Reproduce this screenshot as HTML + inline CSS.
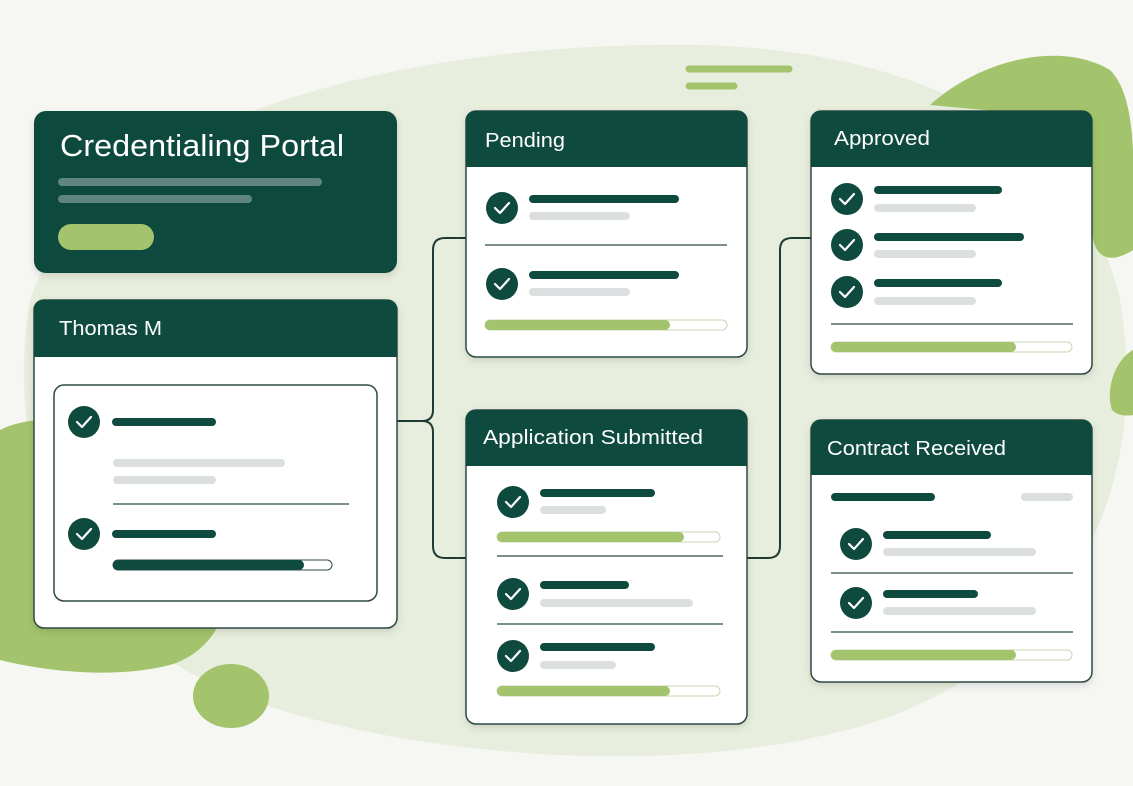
<!DOCTYPE html>
<html><head><meta charset="utf-8"><style>
html,body{margin:0;padding:0;background:#f6f7f3;}
svg{display:block;font-family:"Liberation Sans","DejaVu Sans",sans-serif;}
</style></head><body>
<svg width="1133" height="786" viewBox="0 0 1133 786" xmlns="http://www.w3.org/2000/svg">
<defs>
<filter id="sh" x="-10%" y="-10%" width="120%" height="130%"><feDropShadow dx="0" dy="3" stdDeviation="4" flood-color="#000" flood-opacity="0.12"/></filter>
<g id="ck"><circle r="16" fill="#0f4a3e"/><path d="M-7,0 L-2,5 L7,-5" fill="none" stroke="#fff" stroke-width="2.2" stroke-linecap="round" stroke-linejoin="round"/></g>
</defs>
<rect width="1133" height="786" fill="#f6f7f3"/>
<path d="M30,300 C90,120 400,40 700,45 C900,50 1080,120 1120,300 C1150,480 1080,650 880,720 C700,780 420,760 250,700 C80,640 0,480 30,300 Z" fill="#e8eedd"/>
<path d="M0,430 C60,400 160,440 210,520 C250,590 220,650 170,665 C110,680 40,670 0,660 Z" fill="#a3c46c"/>
<ellipse cx="231" cy="696" rx="38" ry="32" fill="#a3c46c"/>
<path d="M930,105 C980,60 1060,40 1110,70 C1140,100 1133,180 1133,250 C1110,265 1090,260 1092,220 L1092,120 Z" fill="#a3c46c"/>
<path d="M1133,350 C1115,360 1105,390 1112,410 C1120,418 1133,415 1133,415 Z" fill="#a3c46c"/>
<line x1="689" y1="69" x2="789" y2="69" stroke="#a3c46c" stroke-width="7" stroke-linecap="round"/>
<line x1="689" y1="86" x2="734" y2="86" stroke="#a3c46c" stroke-width="7" stroke-linecap="round"/>
<g fill="none" stroke="#1d3b34" stroke-width="2">
<path d="M397,421 L422,421 Q433,421 433,410 L433,250 Q433,238 445,238 L466,238"/>
<path d="M422,421 Q433,421 433,432 L433,546 Q433,558 445,558 L466,558"/>
<path d="M747,558 L768,558 Q780,558 780,546 L780,250 Q780,238 792,238 L811,238"/>
</g>
<rect x="34" y="111" width="363" height="162" rx="12" fill="#0f4a3e" filter="url(#sh)"/>
<text x="60" y="156" font-size="31" fill="#fff" textLength="284" lengthAdjust="spacingAndGlyphs">Credentialing Portal</text>
<line x1="62" y1="182" x2="318" y2="182" stroke="#5f8580" stroke-width="8" stroke-linecap="round"/>
<line x1="62" y1="199" x2="248" y2="199" stroke="#5f8580" stroke-width="8" stroke-linecap="round"/>
<rect x="58" y="224" width="96" height="26" rx="13" fill="#a3c46c"/>
<g filter="url(#sh)"><rect x="34" y="300" width="363" height="328" rx="10" fill="#fff" stroke="#2f4a44" stroke-width="1.5"/></g>
<path d="M34,357 L34,310 Q34,300 44,300 L387,300 Q397,300 397,310 L397,357 Z" fill="#0f4a3e"/>
<text x="59" y="335" font-size="20" fill="#fff" textLength="103" lengthAdjust="spacingAndGlyphs">Thomas M</text>
<rect x="54" y="385" width="323" height="216" rx="10" fill="#fff" stroke="#2f4a44" stroke-width="1.5"/>
<use href="#ck" x="84" y="422"/>
<line x1="116" y1="422" x2="212" y2="422" stroke="#0f4a3e" stroke-width="8" stroke-linecap="round"/>
<line x1="117" y1="463" x2="281" y2="463" stroke="#dcdfe0" stroke-width="8" stroke-linecap="round"/>
<line x1="117" y1="480" x2="212" y2="480" stroke="#dcdfe0" stroke-width="8" stroke-linecap="round"/>
<line x1="113" y1="504" x2="349" y2="504" stroke="#2f4a44" stroke-width="1.3"/>
<use href="#ck" x="84" y="534"/>
<line x1="116" y1="534" x2="212" y2="534" stroke="#0f4a3e" stroke-width="8" stroke-linecap="round"/>
<rect x="113" y="560" width="219" height="10" rx="5" fill="#fff" stroke="#2f4a44" stroke-width="1"/>
<rect x="113" y="560" width="191" height="10" rx="5" fill="#0f4a3e"/>
<g filter="url(#sh)"><rect x="466" y="111" width="281" height="246" rx="10" fill="#fff" stroke="#2f4a44" stroke-width="1.5"/></g>
<path d="M466,167 L466,121 Q466,111 476,111 L737,111 Q747,111 747,121 L747,167 Z" fill="#0f4a3e"/>
<text x="485" y="147" font-size="20" fill="#fff" textLength="80" lengthAdjust="spacingAndGlyphs">Pending</text>
<use href="#ck" x="502" y="208"/>
<line x1="533" y1="199" x2="675" y2="199" stroke="#0f4a3e" stroke-width="8" stroke-linecap="round"/>
<line x1="533" y1="216" x2="626" y2="216" stroke="#dcdfe0" stroke-width="8" stroke-linecap="round"/>
<line x1="485" y1="245" x2="727" y2="245" stroke="#2f4a44" stroke-width="1.3"/>
<use href="#ck" x="502" y="284"/>
<line x1="533" y1="275" x2="675" y2="275" stroke="#0f4a3e" stroke-width="8" stroke-linecap="round"/>
<line x1="533" y1="292" x2="626" y2="292" stroke="#dcdfe0" stroke-width="8" stroke-linecap="round"/>
<rect x="485" y="320" width="242" height="10" rx="5" fill="#fff" stroke="#c9d4b0" stroke-width="1"/>
<rect x="485" y="320" width="185" height="10" rx="5" fill="#a3c46c"/>
<g filter="url(#sh)"><rect x="466" y="410" width="281" height="314" rx="10" fill="#fff" stroke="#2f4a44" stroke-width="1.5"/></g>
<path d="M466,466 L466,420 Q466,410 476,410 L737,410 Q747,410 747,420 L747,466 Z" fill="#0f4a3e"/>
<text x="483" y="444" font-size="20" fill="#fff" textLength="220" lengthAdjust="spacingAndGlyphs">Application Submitted</text>
<use href="#ck" x="513" y="502"/>
<line x1="544" y1="493" x2="651" y2="493" stroke="#0f4a3e" stroke-width="8" stroke-linecap="round"/>
<line x1="544" y1="510" x2="602" y2="510" stroke="#dcdfe0" stroke-width="8" stroke-linecap="round"/>
<rect x="497" y="532" width="223" height="10" rx="5" fill="#fff" stroke="#c9d4b0" stroke-width="1"/>
<rect x="497" y="532" width="187" height="10" rx="5" fill="#a3c46c"/>
<line x1="497" y1="556" x2="723" y2="556" stroke="#2f4a44" stroke-width="1.3"/>
<use href="#ck" x="513" y="594"/>
<line x1="544" y1="585" x2="625" y2="585" stroke="#0f4a3e" stroke-width="8" stroke-linecap="round"/>
<line x1="544" y1="603" x2="689" y2="603" stroke="#dcdfe0" stroke-width="8" stroke-linecap="round"/>
<line x1="497" y1="624" x2="723" y2="624" stroke="#2f4a44" stroke-width="1.3"/>
<use href="#ck" x="513" y="656"/>
<line x1="544" y1="647" x2="651" y2="647" stroke="#0f4a3e" stroke-width="8" stroke-linecap="round"/>
<line x1="544" y1="665" x2="612" y2="665" stroke="#dcdfe0" stroke-width="8" stroke-linecap="round"/>
<rect x="497" y="686" width="223" height="10" rx="5" fill="#fff" stroke="#c9d4b0" stroke-width="1"/>
<rect x="497" y="686" width="173" height="10" rx="5" fill="#a3c46c"/>
<g filter="url(#sh)"><rect x="811" y="111" width="281" height="263" rx="10" fill="#fff" stroke="#2f4a44" stroke-width="1.5"/></g>
<path d="M811,167 L811,121 Q811,111 821,111 L1082,111 Q1092,111 1092,121 L1092,167 Z" fill="#0f4a3e"/>
<text x="834" y="145" font-size="20" fill="#fff" textLength="96" lengthAdjust="spacingAndGlyphs">Approved</text>
<use href="#ck" x="847" y="199"/>
<use href="#ck" x="847" y="245"/>
<use href="#ck" x="847" y="292"/>
<line x1="878" y1="190" x2="998" y2="190" stroke="#0f4a3e" stroke-width="8" stroke-linecap="round"/>
<line x1="878" y1="237" x2="1020" y2="237" stroke="#0f4a3e" stroke-width="8" stroke-linecap="round"/>
<line x1="878" y1="283" x2="998" y2="283" stroke="#0f4a3e" stroke-width="8" stroke-linecap="round"/>
<line x1="878" y1="208" x2="972" y2="208" stroke="#dcdfe0" stroke-width="8" stroke-linecap="round"/>
<line x1="878" y1="254" x2="972" y2="254" stroke="#dcdfe0" stroke-width="8" stroke-linecap="round"/>
<line x1="878" y1="301" x2="972" y2="301" stroke="#dcdfe0" stroke-width="8" stroke-linecap="round"/>
<line x1="831" y1="324" x2="1073" y2="324" stroke="#2f4a44" stroke-width="1.3"/>
<rect x="831" y="342" width="241" height="10" rx="5" fill="#fff" stroke="#c9d4b0" stroke-width="1"/>
<rect x="831" y="342" width="185" height="10" rx="5" fill="#a3c46c"/>
<g filter="url(#sh)"><rect x="811" y="420" width="281" height="262" rx="10" fill="#fff" stroke="#2f4a44" stroke-width="1.5"/></g>
<path d="M811,475 L811,430 Q811,420 821,420 L1082,420 Q1092,420 1092,430 L1092,475 Z" fill="#0f4a3e"/>
<text x="827" y="455" font-size="20" fill="#fff" textLength="179" lengthAdjust="spacingAndGlyphs">Contract Received</text>
<line x1="835" y1="497" x2="931" y2="497" stroke="#0f4a3e" stroke-width="8" stroke-linecap="round"/>
<line x1="1025" y1="497" x2="1069" y2="497" stroke="#dcdfe0" stroke-width="8" stroke-linecap="round"/>
<use href="#ck" x="856" y="544"/>
<line x1="887" y1="535" x2="987" y2="535" stroke="#0f4a3e" stroke-width="8" stroke-linecap="round"/>
<line x1="887" y1="552" x2="1032" y2="552" stroke="#dcdfe0" stroke-width="8" stroke-linecap="round"/>
<line x1="831" y1="573" x2="1073" y2="573" stroke="#2f4a44" stroke-width="1.3"/>
<use href="#ck" x="856" y="603"/>
<line x1="887" y1="594" x2="974" y2="594" stroke="#0f4a3e" stroke-width="8" stroke-linecap="round"/>
<line x1="887" y1="611" x2="1032" y2="611" stroke="#dcdfe0" stroke-width="8" stroke-linecap="round"/>
<line x1="831" y1="632" x2="1073" y2="632" stroke="#2f4a44" stroke-width="1.3"/>
<rect x="831" y="650" width="241" height="10" rx="5" fill="#fff" stroke="#c9d4b0" stroke-width="1"/>
<rect x="831" y="650" width="185" height="10" rx="5" fill="#a3c46c"/>
</svg>
</body></html>
